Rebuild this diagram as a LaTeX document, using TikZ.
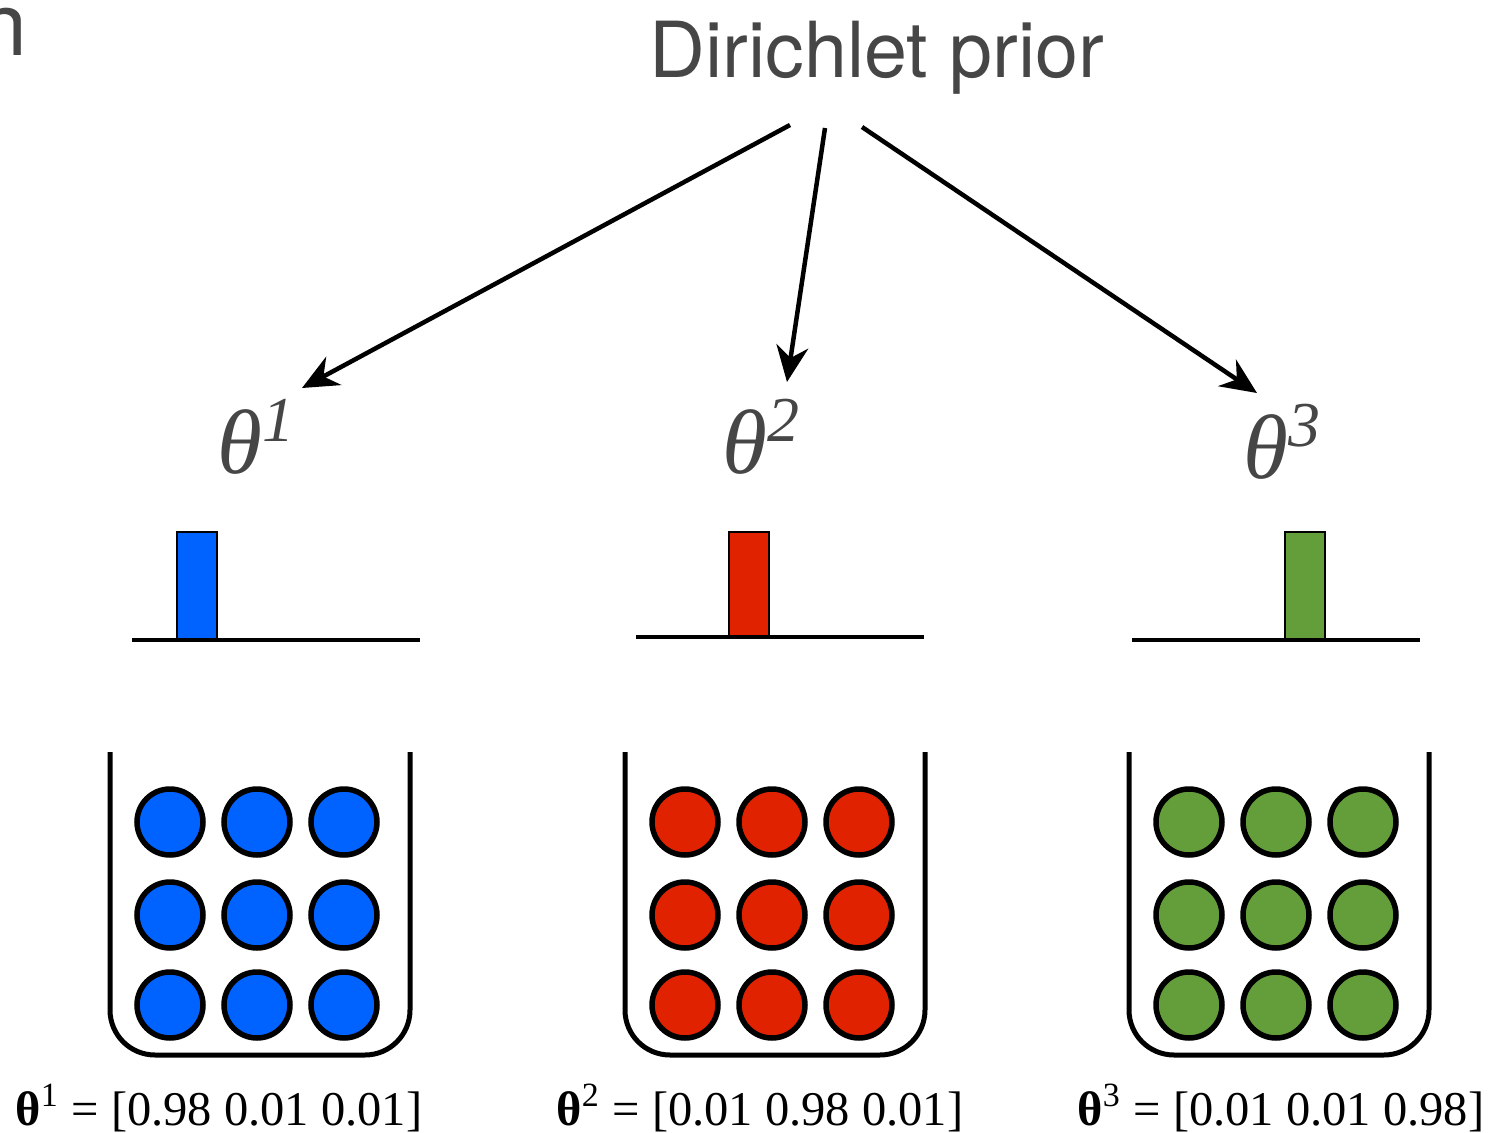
\documentclass[tikz,border=0pt]{standalone}
\usepackage{fontspec}
\setmainfont{Liberation Serif}
\newfontfamily\headfont{TeX Gyre Heros}
\usetikzlibrary{positioning,arrows.meta}
\definecolor{ballblue}{RGB}{0,98,255}
\definecolor{ballred}{RGB}{224,34,0}
\definecolor{ballgreen}{RGB}{100,158,58}
\definecolor{labelgray}{RGB}{70,70,70}

\begin{document}
\begin{tikzpicture}[
		x=0.1mm, y=-0.1mm,
		head/.style={font=\headfont\fontsize{22}{26}\selectfont, text=labelgray, inner sep=0pt},
		param/.style={font=\fontsize{26}{30}\selectfont\itshape, text=labelgray, inner sep=0pt},
		vec/.style={font=\fontsize{13.8}{17}\selectfont, inner sep=0pt},
		bar/.style={draw, line width=0.25mm},
		axis/.style={line width=0.45mm},
		jar/.style={line width=0.5mm, rounded corners=4.5mm},
		ball/.style={circle, draw, line width=0.55mm, minimum size=6.6mm, inner sep=0pt},
		arr/.style={-{Stealth[length=3.6mm, width=3.2mm]}, line width=0.45mm}
		]
		\useasboundingbox (0,0) rectangle (1490,1133);
		\node[head, font=\headfont\fontsize{25}{30}\selectfont, anchor=base east] (cut) at (28,55) {n};
		\node[head, anchor=base] (prior) at (877,77) {Dirichlet prior};
		% parameter labels
		\node[param, anchor=base] (th1) at (257,473) {θ\textsuperscript{1}};
		\node[param, anchor=base] (th2) at (762,473) {θ\textsuperscript{2}};
		\node[param, anchor=base] (th3) at (1283,478) {θ\textsuperscript{3}};
		% arrows from the prior
		\coordinate (s1) at (790,125);  \coordinate (e1) at (302,388);
		\coordinate (s2) at (825,128);  \coordinate (e2) at (787,382);
		\coordinate (s3) at (862,127);  \coordinate (e3) at (1257,393);
		\draw[arr] (s1) -- (e1);
		\draw[arr] (s2) -- (e2);
		\draw[arr] (s3) -- (e3);
		% bars, jars and balls
		\foreach \k/\jx/\ax/\ay/\bx/\col in {1/110/132/640/177/ballblue,
				2/625/636/637/729/ballred, 3/1129/1132/640/1285/ballgreen}{
			\draw[bar, fill=\col] (\bx,532) rectangle (\bx+40,\ay);
			\draw[axis] (\ax,\ay) -- (\ax+288,\ay);
			\draw[jar] (\jx,752) |- (\jx+300,1055) -- (\jx+300,752);
			\foreach \i in {0,1,2}
			\foreach \r/\ry in {1/822,2/915,3/1005}
			\node[ball, fill=\col] (b\k-\i-\r) at (\jx+60+87*\i,\ry) {};
		}
		% probability vectors
		\node[vec, anchor=base] (v1) at (219,1125) {{\bfseries θ}\textsuperscript{1} = [0.98 0.01 0.01]};
		\node[vec, anchor=base] (v2) at (760,1125) {{\bfseries θ}\textsuperscript{2} = [0.01 0.98 0.01]};
		\node[vec, anchor=base] (v3) at (1281,1125) {{\bfseries θ}\textsuperscript{3} = [0.01 0.01 0.98]};
	\end{tikzpicture}
\end{document}
